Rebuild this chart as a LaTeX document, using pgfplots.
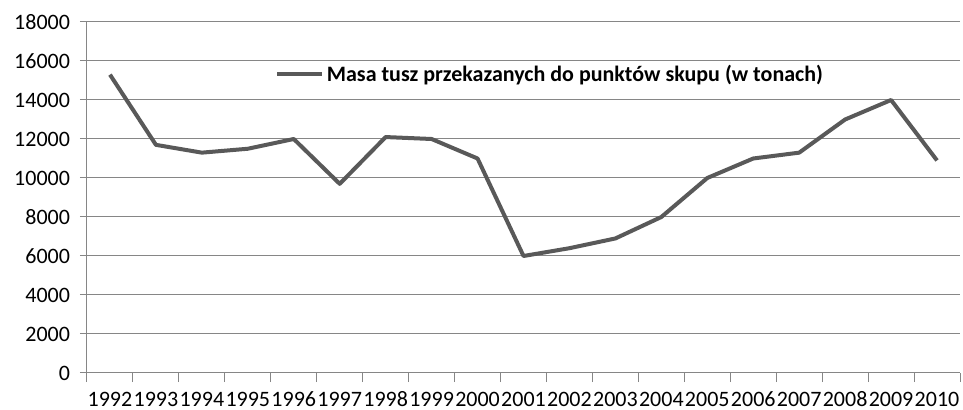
\documentclass[border=0pt]{standalone}
\usepackage{pgfplots}
\pgfplotsset{compat=1.18}
\usepackage{fontspec}
\setmainfont{Carlito}
\definecolor{linegray}{HTML}{595959}
\definecolor{gridgray}{HTML}{868686}
\begin{document}
\begin{tikzpicture}
\begin{axis}[
  scale only axis,
  width=654.75pt, height=263.25pt,
  xmin=0.5, xmax=19.5,
  ymin=0, ymax=18000,
  ytick={0,2000,...,18000},
  xtick={1,...,19},
  xticklabels={1992,1993,1994,1995,1996,1997,1998,1999,2000,2001,2002,2003,2004,2005,2006,2007,2008,2009,2010},
  minor xtick={0.5,1.5,...,19.5},
  major x tick style={draw=none},
  minor x tick style={draw=gridgray, line width=0.75pt},
  major y tick style={draw=gridgray, line width=0.75pt},
  tick align=outside,
  major tick length=5.25pt,
  minor tick length=6.75pt,
  axis x line*=bottom,
  axis y line*=left,
  axis line style={draw=gridgray, line width=0.75pt},
  ymajorgrids,
  grid style={draw=gridgray, line width=0.75pt},
  /pgf/number format/assume math mode=true,
  scaled y ticks=false,
  yticklabel style={/pgf/number format/1000 sep={}, xshift=-4pt},
  tick label style={font=\fontsize{16.5}{19}\selectfont, text=black},
  xticklabel style={anchor=north, yshift=-9pt, inner xsep=0pt, inner ysep=0pt, text height=11pt, text depth=0pt},
  legend style={at={(0.2153,0.852)}, anchor=west, draw=none, fill=none,
    inner sep=0pt,
    font=\fontsize{16.5}{19}\selectfont\bfseries},
  legend cell align=left,
  legend image code/.code={\draw[#1] (0pt,0pt) -- (33.75pt,0pt);},
  clip=false,
]
\addplot[linegray, line width=3pt, line join=round] coordinates {
(1,15300) (2,11700) (3,11300) (4,11500) (5,12000) (6,9700) (7,12100) (8,12000) (9,11000) (10,6000) (11,6400) (12,6900) (13,8000) (14,10000) (15,11000) (16,11300) (17,13000) (18,14000) (19,10900)
};
\addlegendentry{Masa tusz przekazanych do punktów skupu (w tonach)}
\coordinate (O) at (rel axis cs:0,0);
\end{axis}
\pgfresetboundingbox
\path[use as bounding box] ([xshift=-65.25pt,yshift=-27.75pt]O) rectangle ([xshift=657pt,yshift=279.75pt]O);
\end{tikzpicture}
\end{document}
